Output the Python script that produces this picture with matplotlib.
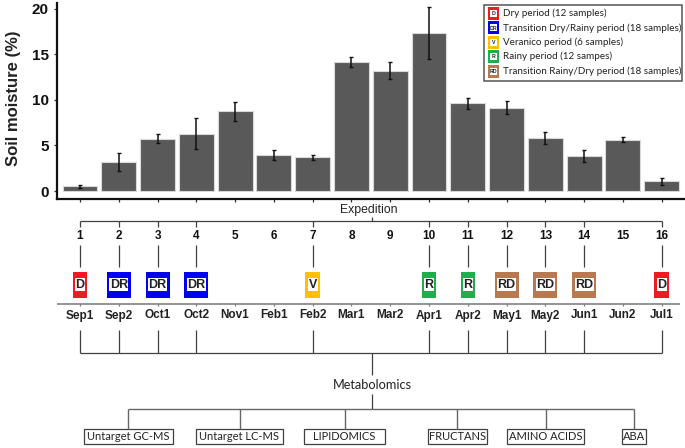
#!/usr/bin/env python3
"""Soil moisture per expedition with the sampling and metabolomics scheme below it."""

import matplotlib
matplotlib.use('Agg')
import matplotlib.pyplot as plt
from matplotlib.patches import Rectangle

# Chart data
expeditions = list(range(1, 17))
moisture = [0.5, 3.2, 5.75, 6.3, 8.75, 4.0, 3.7, 14.2, 13.2, 17.35, 9.6, 9.15, 5.85, 3.85, 5.65, 1.05]
moisture_err = [0.15, 0.95, 0.45, 1.7, 1.05, 0.55, 0.25, 0.55, 0.9, 2.85, 0.65, 0.75, 0.65, 0.65, 0.3, 0.4]
months = ['Sep1', 'Sep2', 'Oct1', 'Oct2', 'Nov1', 'Feb1', 'Feb2', 'Mar1',
          'Mar2', 'Apr1', 'Apr2', 'May1', 'May2', 'Jun1', 'Jun2', 'Jul1']

# Period of each sampled expedition
period_codes = {1: 'D', 2: 'DR', 3: 'DR', 4: 'DR', 7: 'V', 10: 'R',
                11: 'R', 12: 'RD', 13: 'RD', 14: 'RD', 16: 'D'}
period_colors = {'D': '#ed1c24', 'DR': '#0000f0', 'V': '#ffc000',
                 'R': '#1fae4b', 'RD': '#b87850'}
legend_codes = ['D', 'DR', 'V', 'R', 'RD']
legend_labels = ['Dry period (12 samples)',
                 'Transition Dry/Rainy period (18 samples)',
                 'Veranico period (6 samples)',
                 'Rainy period (12 sampes)',
                 'Transition Rainy/Dry period (18 samples)']

analyses = ['Untarget GC-MS', 'Untarget LC-MS', 'LIPIDOMICS', 'FRUCTANS', 'AMINO ACIDS', 'ABA']

W, H = 685, 448
PX_PER_EXP = 38.78
X0 = 80  # pixel of expedition 1
LINE = '#404040'
BOLD = 'Liberation Sans'
LIGHT = 'Lato'


def px(x):
    """Pixel column to expedition units."""
    return 1 + (x - X0) / PX_PER_EXP


def hline(ax, x1, x2, y, color=LINE, lw=0.9):
    ax.plot([x1, x2], [y, y], color=color, lw=lw, solid_capstyle='butt')


def vline(ax, x, y1, y2, color=LINE, lw=0.9):
    ax.plot([x, x], [y1, y2], color=color, lw=lw, solid_capstyle='butt')


def period_box(ax, x_center, y_center, code, width, height, inner_w, inner_h, fontsize):
    """Coloured frame with a white centre and the period code."""
    dx = width / PX_PER_EXP
    ax.add_patch(Rectangle((x_center - dx / 2, y_center - height / 2), dx, height,
                           facecolor=period_colors[code], edgecolor='none'))
    dx = inner_w / PX_PER_EXP
    ax.add_patch(Rectangle((x_center - dx / 2, y_center - inner_h / 2), dx, inner_h,
                           facecolor='white', edgecolor='none'))
    ax.text(x_center, y_center + 0.3, code, ha='center', va='center', fontsize=fontsize,
            fontweight='bold', family=BOLD, color='#222222')


fig = plt.figure(figsize=(W / 100, H / 100), dpi=100)

# Bar panel
ax = fig.add_axes([57 / W, 1 - 198.5 / H, (W - 57) / W, 195.5 / H])
ax.bar(expeditions, moisture, width=0.9, color='#595959', edgecolor='#d9d9d9', linewidth=0.8)
ax.errorbar(expeditions, moisture, yerr=moisture_err, fmt='none', ecolor='#111111',
            elinewidth=1.1, capsize=1.5, capthick=1)
ax.set_xlim(px(57), px(W))
ax.set_ylim(-0.82, 20.62)
ax.set_xticks(expeditions)
ax.set_xticklabels([])
ax.set_yticks([0, 5, 10, 15, 20])
ax.tick_params(axis='both', length=2.5, width=0.9, color='#333333', pad=3.5)
for label in ax.get_yticklabels():
    label.set_fontsize(11)
    label.set_fontweight('bold')
    label.set_family(BOLD)
    label.set_color('#111111')
for side in ('top', 'right'):
    ax.spines[side].set_visible(False)
for side in ('left', 'bottom'):
    ax.spines[side].set_linewidth(1.6)
    ax.spines[side].set_color('#111111')
ax.set_ylabel('Soil moisture (%)', fontsize=12, fontweight='bold', family=BOLD,
              color='#222222', labelpad=8, y=0.515)

# Scheme panel, x in expedition units and y in pixels from the top
sch = fig.add_axes([0, 0, 1, 1], facecolor='none')
sch.set_xlim(px(0), px(W))
sch.set_ylim(H, 0)
sch.axis('off')

# Expedition bracket
sampled = sorted(period_codes)
hline(sch, expeditions[0], expeditions[-1], 221)
vline(sch, px(372), 217, 221)
sch.text(px(369), 210.5, 'Expedition', ha='center', va='center', fontsize=8.8,
         family=BOLD, color='#222222')
for exp, month in zip(expeditions, months):
    vline(sch, exp, 304, 306.5, color='#777777')
    sch.text(exp, 236, str(exp), ha='center', va='center', fontsize=8.5,
             fontweight='bold', family=BOLD, color='#111111')
    sch.text(exp, 315.5, month, ha='center', va='center', fontsize=8.5,
             fontweight='bold', family=BOLD, color='#222222')

for exp, code in period_codes.items():
    vline(sch, exp, 221, 227)
    vline(sch, exp, 245, 267)
    wide = len(code) > 1
    period_box(sch, exp, 285, code, 24 if wide else 14.5, 26, 19 if wide else 10, 13, 9)

hline(sch, px(57), px(680), 304, color='#777777', lw=1.1)

# Metabolomics tree
for exp in sampled:
    vline(sch, exp, 330, 353)
hline(sch, expeditions[0], expeditions[-1], 353)
vline(sch, px(372), 353, 375)
sch.text(px(372.5), 385, 'Metabolomics', ha='center', va='center', fontsize=9.2,
         family=LIGHT, color='#222222')
vline(sch, px(372), 394, 409)

box_left = [84, 195.5, 303.5, 428, 507, 622]
box_right = [173, 282.5, 385, 487, 584, 646]
drops = [128, 240, 345, 457, 546, 634]
hline(sch, px(drops[0]), px(drops[-1]), 409, color='#666666', lw=1.0)
for name, x1, x2, drop in zip(analyses, box_left, box_right, drops):
    vline(sch, px(drop), 409, 429, color='#666666', lw=1.0)
    sch.add_patch(Rectangle((px(x1), 429), (x2 - x1) / PX_PER_EXP, 15.5, facecolor='white',
                            edgecolor='#404040', linewidth=0.9))
    sch.text(px((x1 + x2) / 2), 437, name, ha='center', va='center', fontsize=8,
             family=LIGHT, color='#222222')

# Legend box
sch.add_patch(Rectangle((px(484), 5), 198 / PX_PER_EXP, 76, facecolor='white',
                        edgecolor='#555555', linewidth=1.1, zorder=4))
for row, (code, label) in enumerate(zip(legend_codes, legend_labels)):
    y = 13.5 + row * 14.4
    x_center = px(493.5)
    dx = 11.5 / PX_PER_EXP
    sch.add_patch(Rectangle((x_center - dx / 2, y - 6.5), dx, 13,
                            facecolor=period_colors[code], edgecolor='none', zorder=5))
    dx = 7 / PX_PER_EXP
    sch.add_patch(Rectangle((x_center - dx / 2, y - 3.5), dx, 7,
                            facecolor='white', edgecolor='none', zorder=6))
    sch.text(x_center, y + 0.2, code, ha='center', va='center', fontsize=3.8,
             fontweight='bold', family=BOLD, color='#222222', zorder=7)
    sch.text(px(502.7), y, label, ha='left', va='center', fontsize=7.1,
             family=LIGHT, color='#222222', zorder=7)

fig.savefig('out.png', dpi=100)
